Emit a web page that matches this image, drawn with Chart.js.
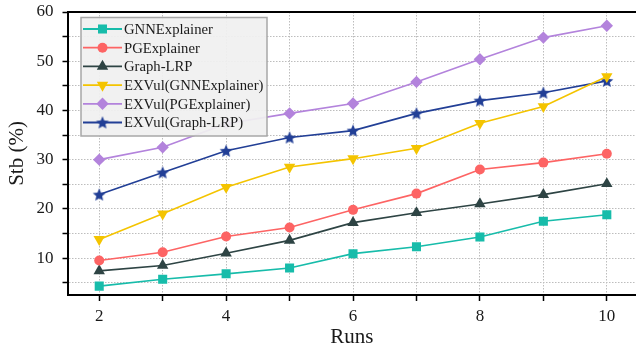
<!DOCTYPE html>
<html>
<head>
<meta charset="utf-8">
<script src="https://cdn.jsdelivr.net/npm/chart.js@4.4.1/dist/chart.umd.min.js"></script>
<style>
  html, body { margin: 0; padding: 0; background: #fff; }
  #wrap { width: 636px; height: 351px; }
</style>
</head>
<body>
<div id="wrap"><canvas id="chart" width="636" height="351"></canvas></div>
<script>
const runs = [2, 3, 4, 5, 6, 7, 8, 9, 10];

const gnnExplainer = [4.3, 5.7, 6.8, 8.0, 10.9, 12.3, 14.3, 17.5, 18.8];
const pgExplainer = [9.5, 11.2, 14.4, 16.2, 19.8, 23.1, 28.0, 29.4, 31.2];
const graphLrp = [7.4, 8.5, 11.0, 13.6, 17.2, 19.2, 21.0, 22.9, 25.1];
const exvulGnn = [13.8, 19.0, 24.4, 28.5, 30.2, 32.3, 37.4, 40.8, 46.9];
const exvulPg = [30.0, 32.5, 37.3, 39.4, 41.4, 45.8, 50.4, 54.8, 57.2];
const exvulLrp = [22.9, 27.4, 31.8, 34.5, 35.9, 39.4, 42.0, 43.6, 46.0];

const seriesNames = ['GNNExplainer', 'PGExplainer', 'Graph-LRP',
    'EXVul(GNNExplainer)', 'EXVul(PGExplainer)', 'EXVul(Graph-LRP)'];

const FONT = "'Liberation Serif', 'DejaVu Serif', serif";

// filled five-point star, Chart.js only has the asterisk kind
function makeStar(color, r) {
    const c = document.createElement('canvas');
    const size = Math.ceil(r * 2 + 2);
    c.width = size;
    c.height = size;
    const ctx = c.getContext('2d');
    const cx = size / 2, cy = size / 2 + 0.6;
    ctx.beginPath();
    for (let i = 0; i < 10; i++) {
        const rad = i % 2 === 0 ? r : r * 0.45;
        const a = -Math.PI / 2 + i * Math.PI / 5;
        ctx.lineTo(cx + rad * Math.cos(a), cy + rad * Math.sin(a));
    }
    ctx.closePath();
    ctx.fillStyle = color;
    ctx.fill();
    return c;
}

const starImg = makeStar('#223f96', 6.8);

function series(label, values, color, style, radius, rotation) {
    return {
        label: label,
        data: values.map((v, i) => ({ x: runs[i], y: v })),
        borderColor: color,
        backgroundColor: color,
        borderWidth: 1.6,
        pointStyle: style,
        pointRadius: radius,
        pointHoverRadius: radius,
        pointRotation: rotation || 0,
        pointBorderWidth: 0,
        pointBackgroundColor: color,
        tension: 0
    };
}

const datasets = [
    series(seriesNames[0], gnnExplainer, '#17bcaa', 'rect', 6.4),
    series(seriesNames[1], pgExplainer, '#fd6464', 'circle', 5),
    series(seriesNames[2], graphLrp, '#2e4444', 'triangle', 6.6),
    series(seriesNames[3], exvulGnn, '#f4c400', 'triangle', 6.6, 180),
    series(seriesNames[4], exvulPg, '#b383dc', 'rectRot', 6.2),
    series(seriesNames[5], exvulLrp, '#223f96', starImg, 7)
];

// legend inside the plot + top frame line
const insideLegend = {
    id: 'insideLegend',
    afterDraw(chart) {
        const ctx = chart.ctx;
        const area = chart.chartArea;
        ctx.save();
        ctx.strokeStyle = '#000';
        ctx.lineWidth = 2;
        ctx.beginPath();
        ctx.moveTo(area.left, area.top);
        ctx.lineTo(area.right, area.top);
        ctx.stroke();

        const bx = 81, by = 17.5, bw = 186, bh = 118.5;
        ctx.fillStyle = 'rgba(240,240,240,0.93)';
        ctx.fillRect(bx, by, bw, bh);
        ctx.strokeStyle = '#a8a8a8';
        ctx.lineWidth = 1.5;
        ctx.strokeRect(bx, by, bw, bh);

        ctx.font = '14.7px ' + FONT;
        ctx.textBaseline = 'middle';
        chart.data.datasets.forEach((ds, i) => {
            const y = 29 + i * 18.7;
            ctx.strokeStyle = ds.borderColor;
            ctx.lineWidth = 1.8;
            ctx.beginPath();
            ctx.moveTo(83, y);
            ctx.lineTo(122, y);
            ctx.stroke();
            ctx.fillStyle = ds.borderColor;
            Chart.helpers.drawPoint(ctx, {
                pointStyle: ds.pointStyle,
                radius: ds.pointRadius,
                rotation: ds.pointRotation,
                borderWidth: 0
            }, 102.5, y);
            ctx.fillStyle = '#1a1a1a';
            ctx.fillText(ds.label, 124, y + 1);
        });
        ctx.restore();
    }
};

new Chart(document.getElementById('chart'), {
    type: 'line',
    data: { datasets: datasets },
    plugins: [insideLegend],
    options: {
        responsive: false,
        animation: false,
        layout: { autoPadding: false, padding: { top: 12, right: 0, left: 0, bottom: 0 } },
        plugins: {
            legend: { display: false },
            tooltip: { enabled: false }
        },
        scales: {
            x: {
                type: 'linear',
                min: 1.5,
                max: 10.46,
                afterFit(scale) {
                    scale.height = 56;
                    scale.paddingLeft = 0;
                    scale.paddingRight = 0;
                },
                ticks: {
                    stepSize: 1,
                    includeBounds: false,
                    autoSkip: false,
                    maxRotation: 0,
                    padding: 5,
                    color: '#1a1a1a',
                    font: { family: FONT, size: 17 },
                    callback: v => (v % 2 === 0 ? String(v) : '')
                },
                grid: {
                    color: '#bdbdbd',
                    lineWidth: 1,
                    drawTicks: true,
                    tickLength: 6,
                    tickColor: '#000',
                    tickWidth: 1.5
                },
                border: { display: true, color: '#000', width: 2, dash: [1.5, 1.5] },
                title: {
                    display: true,
                    text: 'Runs',
                    color: '#1a1a1a',
                    font: { family: FONT, size: 21 },
                    padding: { top: 0, bottom: 1 }
                }
            },
            y: {
                min: 2.5,
                max: 60,
                afterFit(scale) {
                    scale.width = 67.5;
                    scale.paddingTop = 0;
                    scale.paddingBottom = 0;
                },
                ticks: {
                    stepSize: 5,
                    includeBounds: false,
                    autoSkip: false,
                    padding: 9,
                    color: '#1a1a1a',
                    font: { family: FONT, size: 17 },
                    callback: v => (v % 10 === 0 ? String(v) : '')
                },
                grid: {
                    color: '#bdbdbd',
                    lineWidth: 1,
                    drawTicks: true,
                    tickLength: 5,
                    tickColor: '#000',
                    tickWidth: 1.5
                },
                border: { display: true, color: '#000', width: 2, dash: [1.5, 1.5] },
                title: {
                    display: true,
                    text: 'Stb (%)',
                    color: '#1a1a1a',
                    font: { family: FONT, size: 21 },
                    padding: { top: 5, bottom: 0 }
                }
            }
        }
    }
});
</script>
</body>
</html>
